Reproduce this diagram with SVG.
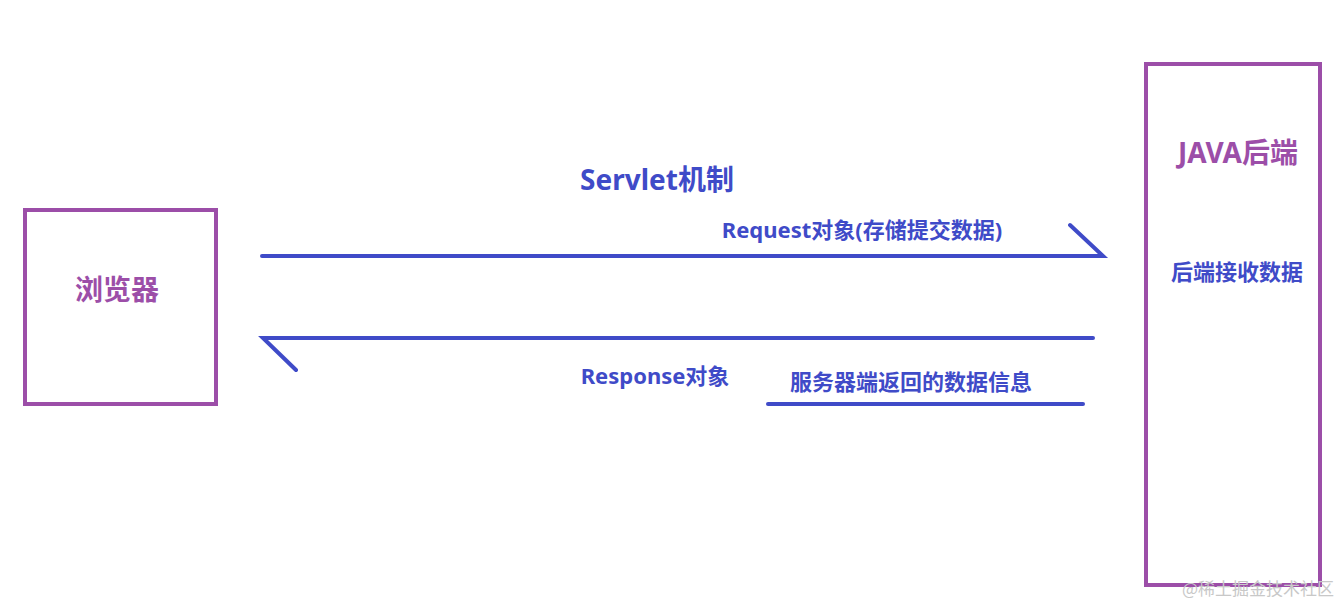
<svg xmlns="http://www.w3.org/2000/svg" width="1343" height="605" viewBox="0 0 1343 605">
<style>
.box{fill:none;stroke:#9c4ea8;stroke-width:4}
.ln{stroke:#3f4bc8;stroke-width:4;stroke-linecap:round;fill:none}
.t{font-family:"Noto Sans","Noto Sans CJK SC",sans-serif;font-weight:bold}
.b{fill:#3f4bc8}
.p{fill:#9c4ea8}
</style>
<rect width="1343" height="605" fill="#fff"/>
<g id="browser"><rect class="box" x="25" y="210" width="191" height="194"/><text class="t p" x="117" y="300" font-size="28" text-anchor="middle">浏览器</text></g>
<g id="backend"><rect class="box" x="1146" y="64" width="174" height="521"/><text class="t p" x="1238" y="163" font-size="28" text-anchor="middle">JAVA后端</text><text class="t b" x="1237" y="280" font-size="22" text-anchor="middle">后端接收数据</text></g>
<g id="connectors">
<path class="ln" d="M262 256 H1103 L1070 225"/>
<path class="ln" d="M1093 338 H263 L296 370"/>
<path class="ln" d="M768 404 H1083"/>
</g>
<g id="labels">
<text class="t b" x="657" y="190" font-size="28" text-anchor="middle">Servlet机制</text>
<text class="t b" x="862" y="238" font-size="22" text-anchor="middle">Request对象(存储提交数据)</text>
<text class="t b" x="655" y="384" font-size="22" text-anchor="middle">Response对象</text>
<text class="t b" x="911" y="390" font-size="22" text-anchor="middle">服务器端返回的数据信息</text>
</g>
<text x="1334" y="595" font-family="Noto Sans CJK SC,sans-serif" font-size="17" fill="#c8c8c8" text-anchor="end">@稀土掘金技术社区</text>
</svg>
